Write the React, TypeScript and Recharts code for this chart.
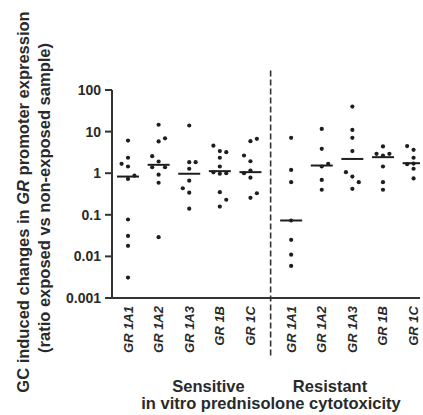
import React from "react";
import { ScatterChart, Scatter, XAxis, YAxis, ReferenceLine } from "recharts";

// ---- data ----
const CATEGORIES = ["GR 1A1", "GR 1A2", "GR 1A3", "GR 1B", "GR 1C"];
const GROUP_LABELS = ["Sensitive", "Resistant"];

// each point: [ratio, jitter slot (-1 left, 0 centre, 1 right)]
const SENSITIVE_POINTS: [number, number][][] = [
  [[6.1, 0], [2.35, 0], [1.68, -1], [1.45, 0], [0.87, 1], [0.73, 0], [0.077, 0], [0.031, 0], [0.018, 0], [0.0031, 0]],
  [[14.6, 0], [6.9, 1], [5.8, 0], [2.56, -1], [1.91, 0], [1.39, -1], [1.39, 1], [0.92, 0], [0.59, 0], [0.029, 0]],
  [[14, 0], [1.84, 0], [1.84, 1], [1.28, 0], [0.66, 0], [0.435, -1], [0.34, 0], [0.14, 0]],
  [[4.6, -1], [3.4, 0], [3.2, 1], [2.35, 0], [1.45, 0], [1.05, -1], [0.97, 0], [1.0, 1], [0.35, 0], [0.23, 1], [0.158, 0]],
  [[6.7, 1], [5.9, 0], [2.66, -1], [1.94, 0], [1.16, 0], [1.0, -1], [0.78, 0], [0.33, 1], [0.256, 0]],
];
const RESISTANT_POINTS: [number, number][][] = [
  [[7.1, 0], [1.2, 0], [0.61, 0], [0.073, 0], [0.025, 0], [0.011, 0], [0.0059, 0]],
  [[11.6, 0], [3.86, 0], [1.68, 1], [1.45, 0], [0.69, 0], [0.4, 0]],
  [[40, 0], [11, 0], [7.1, 0], [3.4, 0], [1.06, -1], [0.83, 0], [0.61, 1], [0.42, 0]],
  [[4.4, 0], [2.93, -1], [2.66, 0], [2.93, 1], [1.45, 0], [0.61, 0], [0.4, 0]],
  [[4.5, -1], [3.65, 0], [2.35, 0], [1.7, 0], [1.65, -1], [1.28, 0], [0.75, 0]],
];
const SENSITIVE_MEDIANS = [0.83, 1.59, 0.97, 1.12, 1.06];
const RESISTANT_MEDIANS = [0.073, 1.53, 2.2, 2.43, 1.74];

const Y_TICKS = [0.001, 0.01, 0.1, 1, 10, 100];
const Y_TICK_LABELS = ["0.001", "0.01", "0.1", "1", "10", "100"];

// ---- layout helpers ----
const GROUP_STARTS = [1, 6.33];
const JITTER = 0.21;
const DIVIDER_X = 5.66;
const FONT = "'Liberation Sans', Arial, Helvetica, sans-serif";
const INK = "#1e1e1e";

const buildPoints = (groups: [number, number][][], start: number) =>
  groups.flatMap((pts, i) => pts.map(([v, slot]) => ({ x: start + i + slot * JITTER, y: v })));
const buildMedians = (meds: number[], start: number) => meds.map((m, i) => ({ x: start + i, y: m }));

const dotData = [
  ...buildPoints(SENSITIVE_POINTS, GROUP_STARTS[0]),
  ...buildPoints(RESISTANT_POINTS, GROUP_STARTS[1]),
];
const medianData = [
  ...buildMedians(SENSITIVE_MEDIANS, GROUP_STARTS[0]),
  ...buildMedians(RESISTANT_MEDIANS, GROUP_STARTS[1]),
];
const X_TICKS = GROUP_STARTS.flatMap((s) => CATEGORIES.map((_, i) => s + i));
const X_TICK_LABELS = GROUP_STARTS.flatMap(() => CATEGORIES);

const Dot = (props: any) => <circle cx={props.cx} cy={props.cy} r={2.1} fill={INK} />;
const MedianBar = (props: any) => (
  <line x1={props.cx - 11} x2={props.cx + 11} y1={props.cy} y2={props.cy} stroke={INK} strokeWidth={2} />
);

const XTick = (props: any) => {
  const { x, y, payload } = props;
  const idx = X_TICKS.findIndex((t) => Math.abs(t - payload.value) < 1e-6);
  const ty = y + 6;
  return (
    <text
      x={x}
      y={ty}
      transform={`rotate(-90 ${x} ${ty})`}
      textAnchor="end"
      dominantBaseline="central"
      fontFamily={FONT}
      fontWeight="bold"
      fontStyle="italic"
      fontSize={13}
      fill="#2a2a2a"
    >
      {idx >= 0 ? X_TICK_LABELS[idx] : ""}
    </text>
  );
};

export default function App() {
  return (
    <div style={{ position: "absolute", left: 0, top: 0, width: 423, height: 415, background: "#fff" }}>
      <ScatterChart width={423} height={415} margin={{ top: 90, right: 3, bottom: 0, left: 0 }}>
        <XAxis
          type="number"
          dataKey="x"
          domain={[0.477, 10.54]}
          ticks={X_TICKS}
          interval={0}
          allowDataOverflow
          height={117}
          tickSize={0}
          tickLine={false}
          tick={<XTick />}
          axisLine={{ stroke: "#333", strokeWidth: 2 }}
        />
        <YAxis
          type="number"
          dataKey="y"
          scale="log"
          domain={[0.001, 100]}
          ticks={Y_TICKS}
          interval={0}
          allowDataOverflow
          width={112}
          tickSize={7}
          tickMargin={4}
          tickFormatter={(v: number) => {
            const i = Y_TICKS.findIndex((t) => Math.abs(t - v) / t < 1e-6);
            return i >= 0 ? Y_TICK_LABELS[i] : "";
          }}
          tick={{ fill: "#2a2a2a", fontSize: 14, fontWeight: "bold", fontFamily: FONT }}
          tickLine={{ stroke: "#333", strokeWidth: 2 }}
          axisLine={{ stroke: "#333", strokeWidth: 2 }}
        />
        <ReferenceLine
          segment={[
            { x: DIVIDER_X, y: 295 },
            { x: DIVIDER_X, y: 0.000037 },
          ]}
          ifOverflow="visible"
          stroke="#333"
          strokeWidth={1.6}
          strokeDasharray="6 3"
        />
        <Scatter data={medianData} shape={<MedianBar />} isAnimationActive={false} />
        <Scatter data={dotData} shape={<Dot />} isAnimationActive={false} />
      </ScatterChart>
      <svg
        width={423}
        height={415}
        style={{ position: "absolute", left: 0, top: 0, pointerEvents: "none" }}
      >
        <g fontFamily={FONT} fontWeight="bold" fontSize={16.5} fill="#2a2a2a" textAnchor="middle" dominantBaseline="central">
          <text x={23} y={202} transform="rotate(-90 23 202)">
            GC induced changes in <tspan fontStyle="italic">GR</tspan> promoter expression
          </text>
          <text x={44} y={198} transform="rotate(-90 44 198)">
            (ratio exposed vs non-exposed sample)
          </text>
          <text x={208.5} y={386}>{GROUP_LABELS[0]}</text>
          <text x={330} y={386}>{GROUP_LABELS[1]}</text>
          <text x={271} y={403}>in vitro prednisolone cytotoxicity</text>
        </g>
      </svg>
    </div>
  );
}
